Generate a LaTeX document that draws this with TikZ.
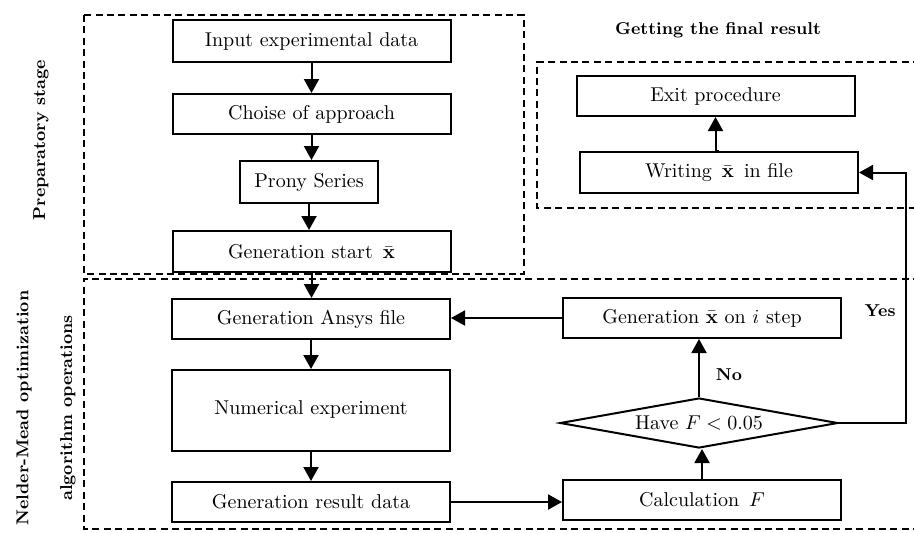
\documentclass[tikz,border=0pt]{standalone}
\usepackage{amsmath}
\usetikzlibrary{shapes.geometric,arrows.meta}
\begin{document}
\begin{tikzpicture}[x=0.5pt,y=-0.5pt,
  every node/.style={font=\fontsize{10}{12}\selectfont},
  stepbox/.style={draw,line width=1pt,inner sep=0pt,minimum width=139pt,minimum height=20pt},
  grp/.style={draw,line width=0.8pt,dash pattern=on 3.5pt off 2.2pt},
  arr/.style={line width=1pt,-{Triangle[length=7pt,width=7.5pt]}},
  lbl/.style={font=\fontsize{8.6}{10}\selectfont\bfseries}]
\useasboundingbox (0,0) rectangle (914,532);
% groups
\draw[grp] (84,15) rectangle (524,274);
\draw[grp] (920,279) -- (84,279) -- (84,529) -- (920,529);
\draw[grp] (920,62) -- (537,62) -- (537,208) -- (920,208);
% nodes
\node[stepbox,minimum height=21pt] (inp) at (311.5,41) {Input experimental data};
\node[stepbox] (cho) at (311.5,114) {Choise of approach};
\node[stepbox,minimum width=69pt,minimum height=21pt] (pro) at (309,182) {Prony Series};
\node[stepbox,minimum height=20.5pt] (gs) at (311.5,251.5) {Generation start\enspace$\bar{\mathbf{x}}$};
\node[stepbox] (ans) at (311,319) {Generation Ansys file};
\node[stepbox,minimum height=40.5pt] (num) at (311,410.5) {\raisebox{3pt}{Numerical experiment}};
\node[stepbox] (res) at (311,502) {Generation result data};
\node[stepbox] (gi) at (702,318) {Generation $\bar{\mathbf{x}}$ on $i$ step};
\node[draw,line width=1pt,shape=diamond,aspect=5.6,inner sep=0pt,minimum width=139pt,minimum height=25pt] (dec) at (699,423) {Have $F<0.05$};
\node[stepbox] (calc) at (702,500) {Calculation\enspace$F$};
\node[stepbox,minimum height=20.5pt] (wr) at (719,172.5) {Writing\enspace$\bar{\mathbf{x}}$\enspace in file};
\node[stepbox] (ex) at (715.5,96) {Exit procedure};
% labels
\node[lbl] (t1) at (718,30) {Getting the final result};
\node[lbl,rotate=90] (t2) at (41,140) {Preparatory stage};
\node[lbl,rotate=90] (t3) at (24,408) {Nelder-Mead optimization};
\node[lbl,rotate=90] (t4) at (68,408) {algorithm operations};
\node[lbl] (no) at (729,375) {No};
\node[lbl] (yes) at (880,311) {Yes};
\coordinate (c1) at (906,423);
\coordinate (c2) at (906,172.5);
% connectors
\draw[arr] (inp.south) -- (inp.south |- cho.north);
\draw[arr] (cho.south) -- (cho.south |- pro.north);
\draw[arr] (pro.south) -- (pro.south |- gs.north);
\draw[arr] (gs.south) -- (gs.south |- ans.north);
\draw[arr] (ans.south) -- (num.north);
\draw[arr] (num.south) -- (res.north);
\draw[arr] (res.east) -- (res.east -| calc.west);
\draw[arr] (calc.north) -- (calc.north |- dec.south);
\draw[arr] (dec.north) -- (dec.north |- gi.south);
\draw[arr] (gi.west) -- (gi.west -| ans.east);
\draw[arr] (dec.east) -- (c1) -- (c2) -- (wr.east);
\draw[arr] (wr.north) -- (wr.north -| ex.south) -- (ex.south);
\end{tikzpicture}
\end{document}
